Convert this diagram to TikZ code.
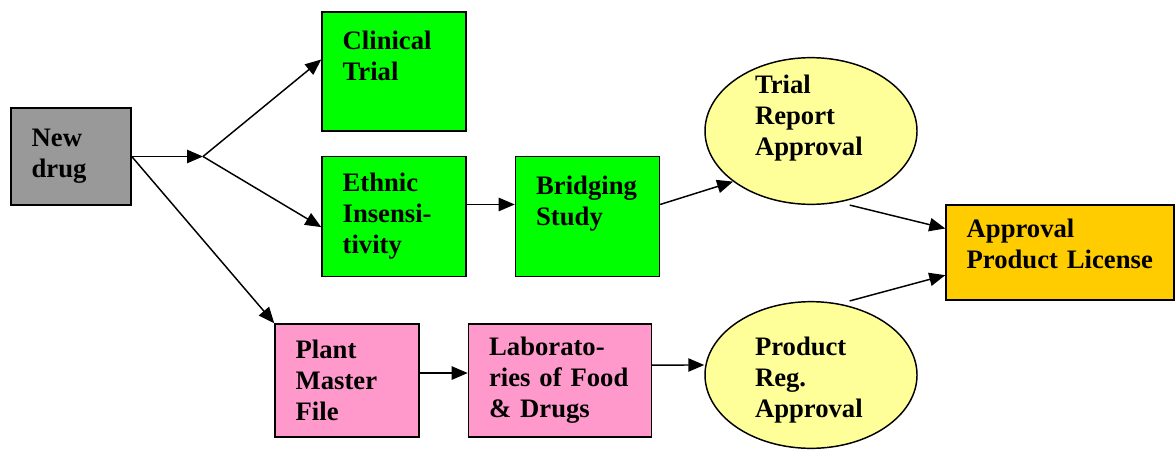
\documentclass[tikz,border=0pt]{standalone}
\usepackage{fontspec}
\setmainfont{Liberation Serif}
\usetikzlibrary{arrows.meta,positioning,shapes.geometric}

\definecolor{drugGray}{HTML}{999999}
\definecolor{trialGreen}{HTML}{00FF00}
\definecolor{filePink}{HTML}{FF99CC}
\definecolor{lemon}{HTML}{FFFF99}
\definecolor{licenseGold}{HTML}{FFCC00}

\begin{document}
\begin{tikzpicture}[x=0.75pt,y=-0.75pt,>={Triangle[length=12pt,width=10pt]},node distance=36pt,
    every node/.style={font=\bfseries\fontsize{20}{23.25}\selectfont},
    card/.style={rectangle,draw,line width=1.1pt,align=left,inner xsep=15.5pt,inner ysep=0pt},
    oval/.style={ellipse,draw,fill=lemon,line width=1.1pt,align=left,text width=84pt,inner sep=-4pt,minimum width=159pt,minimum height=110pt},
    link/.style={->,line width=1.1pt}]

            \useasboundingbox (0,0) rectangle (1176,456);

            \node[card,fill=drugGray,text width=59pt,minimum height=72.75pt] (drug) at (71,156.5) {New\\drug};

            \node[card,fill=trialGreen,text width=77pt,minimum height=89.25pt] (clinical) at (394,71.5) {Clinical\\Trial\\\mbox{}};
            \node[card,fill=trialGreen,text width=77pt,minimum height=90pt] (ethnic) [below=18pt of clinical] {Ethnic\\Insensi-\\tivity};
            \node[card,fill=trialGreen,text width=77pt,minimum height=90pt] (bridging) [right=of ethnic] {Bridging\\Study\\\mbox{}};

            \node[card,fill=filePink,text width=77pt,minimum height=84.75pt] (plant) at (347,380.5) {Plant\\Master\\File};
            \node[card,fill=filePink,text width=106.25pt,minimum height=84.75pt] (labs) [right=of plant] {Laborato-\\ries of Food\\\& Drugs};

            \node[oval] (trial) at (811,131) {Trial\\Report\\Approval\\\mbox{}};
            \node[oval] (product) at (811,375) {\mbox{}\\[-1pt]Product\\Reg.\\Approval};

            \node[card,fill=licenseGold,text width=140pt,minimum height=71.25pt] (license) at (1060,252.5) {Approval\\Product License\\[-10pt]\mbox{}};

            \coordinate (split) at (203,156.5);

            \path[link] (drug.east) edge (split)
                      (split) edge ([yshift=9pt]clinical.west)
                      (split) edge ([yshift=-8pt]ethnic.west)
                      (drug.east) edge (plant.north west)
                      ([yshift=9pt]ethnic.east) edge ([yshift=9pt]bridging.west)
                      ([yshift=9pt]bridging.east) edge (trial.213)
                      ([yshift=5.6pt]plant.east) edge ([yshift=5.6pt]labs.west)
                      ([yshift=11.6pt]labs.east) edge ([yshift=7.5pt]product.west)
                      ([xshift=29pt]trial.south) edge ([yshift=18pt]license.west)
                      ([xshift=29pt]product.north) edge ([yshift=-17pt]license.west);

        \end{tikzpicture}
\end{document}
